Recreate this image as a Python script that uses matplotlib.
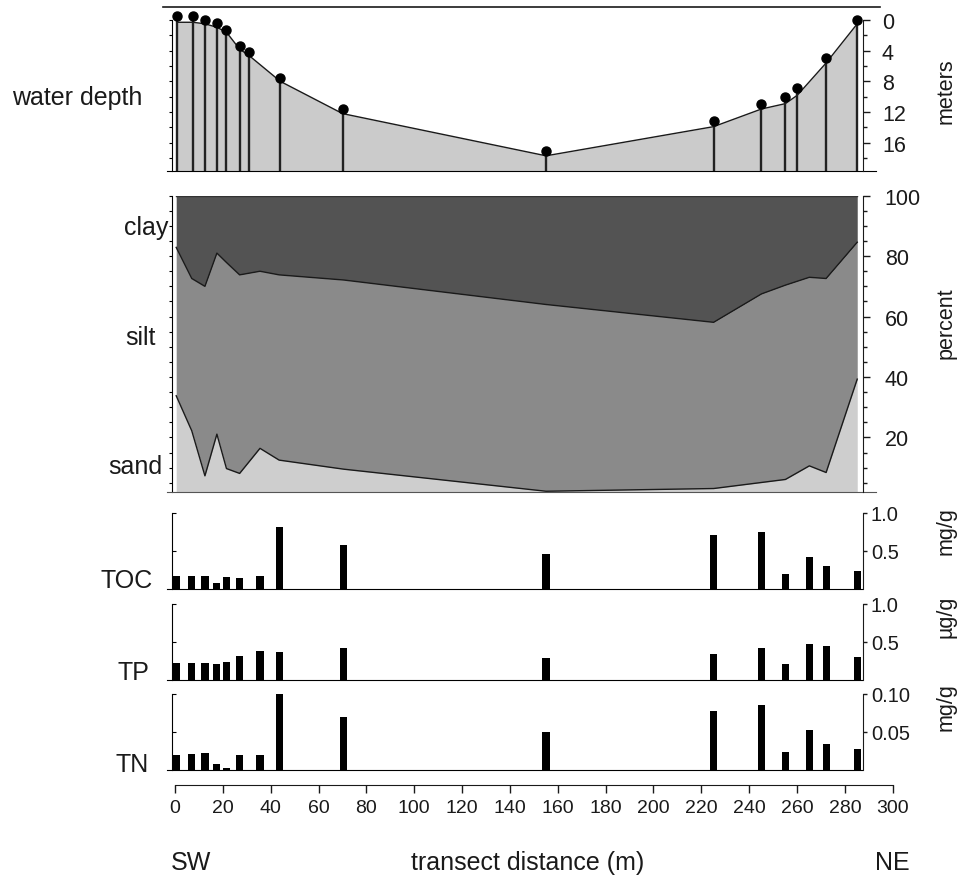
import matplotlib
matplotlib.use("Agg")
import matplotlib.pyplot as plt
import numpy as np
from matplotlib.lines import Line2D

plt.rcParams["font.family"] = ["Liberation Sans", "DejaVu Sans"]

# water depth profile (m)
depth_x = [1, 7.5, 12.5, 17.5, 21.5, 27, 31, 44, 70, 155, 225, 245, 255, 260, 272, 285]
sample_depth = [-0.55, -0.5, 0.0, 0.4, 1.3, 3.35, 4.2, 7.5, 11.6, 17.1, 13.1, 10.9, 10.1, 8.9, 4.9, 0.0]
bottom_depth = [0.3, 0.3, 0.5, 0.95, 1.6, 3.8, 4.65, 8.0, 12.2, 17.7, 13.9, 11.6, 10.9, 9.8, 5.6, 0.5]

# sediment stations
sed_x = [0.5, 7, 12.5, 17.5, 21.5, 27, 35.5, 43.5, 70.5, 155, 225, 245, 255, 265, 272, 285]
sand = [33.8, 22.2, 7.3, 21.1, 9.7, 8.1, 16.4, 12.5, 9.5, 2.2, 3.1, 5.1, 6.1, 10.6, 8.4, 39.3]
silt = [49.1, 50.4, 62.7, 59.9, 68.2, 65.7, 58.6, 61.3, 62.6, 61.8, 55.0, 62.4, 64.3, 62.4, 64.2, 45.3]
clay = [17.1, 27.4, 30.0, 19.0, 22.1, 26.2, 25.0, 26.2, 27.9, 36.0, 41.9, 32.5, 29.6, 27.0, 27.4, 15.4]

toc = [0.174, 0.174, 0.174, 0.078, 0.161, 0.148, 0.17, 0.806, 0.575, 0.46, 0.71, 0.74, 0.2, 0.42, 0.3, 0.23]
tp = [0.217, 0.217, 0.217, 0.208, 0.234, 0.305, 0.379, 0.358, 0.41, 0.28, 0.34, 0.41, 0.21, 0.47, 0.44, 0.29]
tn = [0.0197, 0.0206, 0.022, 0.0079, 0.0022, 0.0197, 0.0197, 0.1, 0.07, 0.05, 0.078, 0.085, 0.024, 0.052, 0.034, 0.027]

W, H = 967, 879
fig = plt.figure(figsize=(W / 100, H / 100), dpi=100)


def box(left, right, top, bottom):
    return [left / W, 1 - bottom / H, (right - left) / W, (bottom - top) / H]


XL, XR = 171.7, 862.5
xlim = (-1.38, 287.2)
ink = "#1a1a1a"


def clean(ax):
    for s in ["top", "right", "left", "bottom"]:
        ax.spines[s].set_visible(False)
    ax.set_xticks([])
    ax.patch.set_visible(False)


def right_axis(ax, major, labels, minor, lo, hi, size, pad, tlen):
    ax2 = ax.twinx()
    ax2.set_ylim(ax.get_ylim())
    clean(ax2)
    ax2.spines["right"].set_visible(True)
    ax2.spines["right"].set_bounds(lo, hi)
    ax2.spines["right"].set_color(ink)
    ax2.set_yticks(major)
    ax2.set_yticklabels(labels)
    ax2.set_yticks(minor, minor=True)
    ax2.tick_params(axis="y", which="major", direction="out", length=tlen, width=1,
                    labelsize=size, pad=pad, colors=ink)
    ax2.tick_params(axis="y", which="minor", direction="out", length=tlen * 0.6, width=1, colors=ink)
    return ax2


# ---- water depth panel
ax = fig.add_axes(box(XL, XR, 8, 172))
clean(ax)
ax.set_xlim(*xlim)
ax.set_ylim(19.68, -1.69)
ax.fill_between(depth_x, bottom_depth, 25, color="#cbcbcb", lw=0)
ax.plot(depth_x, bottom_depth, color=ink, lw=1)
ax.vlines(depth_x, sample_depth, 25, color="#222222", lw=1.7)
ax.plot(depth_x, sample_depth, "o", color="black", ms=6.5, clip_on=False)
ax.spines["left"].set_visible(True)
ax.spines["left"].set_bounds(0, 19.68)
ax.spines["bottom"].set_visible(True)
ax.spines["bottom"].set_bounds(-3.5, 293)
ax.set_yticks(np.arange(0, 20, 2))
ax.tick_params(axis="y", direction="out", length=2.5, labelleft=False)
right_axis(ax, [0, 4, 8, 12, 16], ["0", "4", "8", "12", "16"], [2, 6, 10, 14, 18],
           0, 19.68, 15.5, 9, 5)
fig.add_artist(Line2D([163 / W, 880 / W], [1 - 8 / H, 1 - 8 / H], color=ink, lw=1.2))

# ---- grain size panel
ax = fig.add_axes(box(XL, XR, 196.7, 493))
clean(ax)
ax.set_xlim(*xlim)
ax.set_ylim(1.95, 100)
sand_top = np.array(sand)
silt_top = sand_top + np.array(silt)
clay_top = silt_top + np.array(clay)
ax.fill_between(sed_x, 0, sand_top, color="#cecece", lw=0)
ax.fill_between(sed_x, sand_top, silt_top, color="#8a8a8a", lw=0)
ax.fill_between(sed_x, silt_top, clay_top, color="#535353", lw=0)
ax.plot(sed_x, sand_top, color=ink, lw=1)
ax.plot(sed_x, silt_top, color=ink, lw=1)
ax.plot(sed_x, clay_top, color="#333333", lw=1)
ax.spines["left"].set_visible(True)
ax.spines["bottom"].set_visible(True)
ax.spines["bottom"].set_bounds(-3.5, 293)
ax.spines["bottom"].set_color("#555555")
ax.set_yticks(np.arange(5, 101, 5))
ax.tick_params(axis="y", direction="out", length=2.5, labelleft=False)
right_axis(ax, [20, 40, 60, 80, 100], ["20", "40", "60", "80", "100"],
           np.arange(5, 100, 5), 1.95, 100, 15.5, 11, 5)

# ---- nutrient panels
bar_specs = [
    (toc, 506, 590, 1.1, [0.5, 1.0], ["0.5", "1.0"]),
    (tp, 596.9, 680.5, 1.1, [0.5, 1.0], ["0.5", "1.0"]),
    (tn, 687.4, 771, 0.11, [0.05, 0.10], ["0.05", "0.10"]),
]
for vals, top, bot, ymax, ticks, labels in bar_specs:
    ax = fig.add_axes(box(XL, XR, top, bot))
    clean(ax)
    ax.set_xlim(*xlim)
    ax.set_ylim(0, ymax)
    ax.bar(sed_x, vals, width=3.0, color="black", lw=0)
    ax.spines["left"].set_visible(True)
    ax.spines["left"].set_bounds(0, ticks[-1])
    ax.spines["bottom"].set_visible(True)
    ax.spines["bottom"].set_bounds(-3.5, 287.2)
    ax.set_yticks(ticks)
    ax.tick_params(axis="y", direction="in", length=3, labelleft=False)
    right_axis(ax, ticks, labels, [], 0, ticks[-1], 14.5, 3, 3)

# ---- distance axis
ax = fig.add_axes([175 / W, 1 - 786 / H, 717.7 / W, 0.002])
clean(ax)
ax.spines["bottom"].set_visible(True)
ax.spines["bottom"].set_color(ink)
ax.set_xlim(0, 300)
ax.set_yticks([])
ax.set_xticks(np.arange(0, 301, 20))
ax.tick_params(axis="x", direction="out", length=6, width=1, labelsize=14, pad=4, colors=ink)

# ---- labels
def label(x, y, s, size=18, **kw):
    fig.text(x / W, 1 - y / H, s, fontsize=size, ha="center", va="center", color=ink, **kw)


label(77.5, 98, "water depth")
label(146, 228, "clay")
label(140, 338, "silt")
label(135, 467, "sand")
label(127, 581, "TOC")
label(133, 673, "TP")
label(132, 765, "TN")
label(946, 91, "meters", size=15.5, rotation=90)
label(946, 323, "percent", size=15.5, rotation=90)
label(946, 531, "mg/g", size=15.5, rotation=90)
label(946, 617, "µg/g", size=15.5, rotation=90)
label(946, 707, "mg/g", size=15.5, rotation=90)
label(191.5, 863, "SW")
label(528, 863, "transect distance (m)")
label(892.5, 863, "NE")

fig.savefig("out.png", dpi=100)
